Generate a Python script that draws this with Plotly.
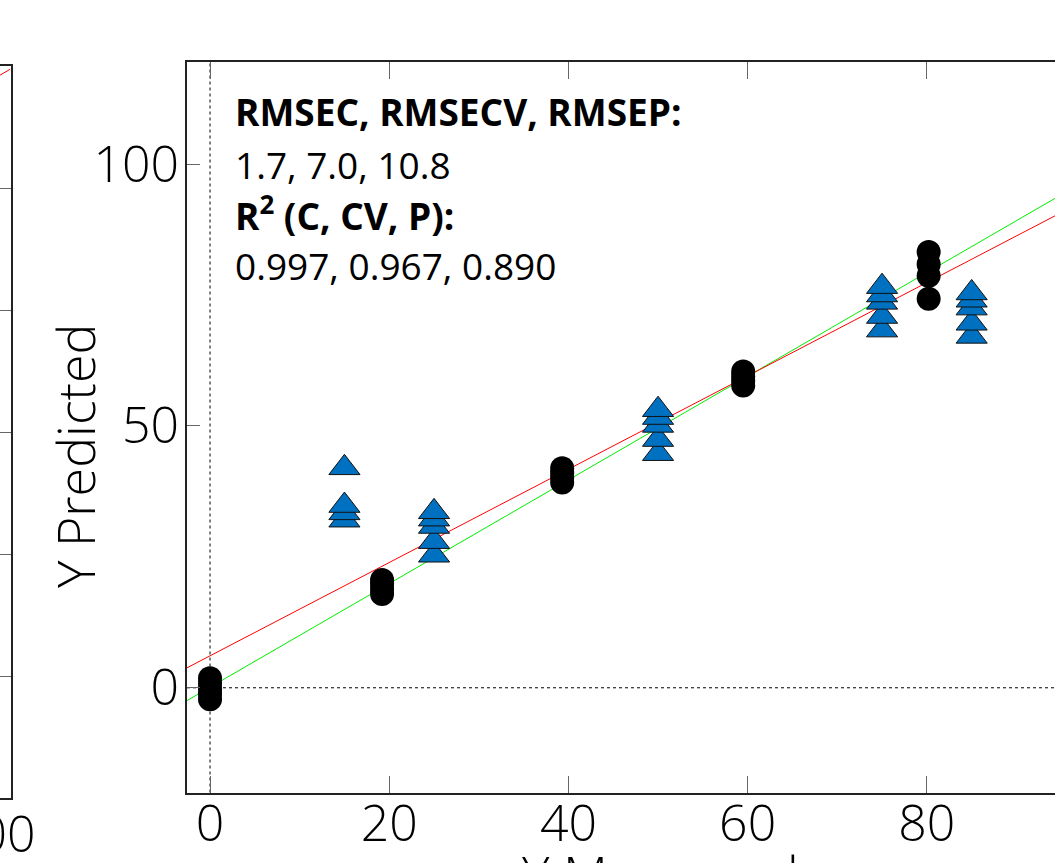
import plotly.graph_objects as go

W, H = 1055, 863

# ---------------- data ----------------
# calibration samples (black circles): measured level -> predicted values
cal_levels = [0, 19.2, 39.3, 59.5, 80.2]
cal_pred = [
    [1.8, 0.8, -0.3, -1.2, -2.2],
    [20.6, 19.8, 18.9, 17.9],
    [41.9, 41.0, 40.2, 39.2],
    [60.4, 59.5, 58.6, 57.7],
    [83.2, 80.9, 78.7, 74.3],
]
# prediction samples (blue triangles)
pred_levels = [15, 25, 50, 75, 85]
pred_pred = [
    [32.0, 33.4, 34.8, 42.0],
    [25.3, 27.9, 30.8, 32.2, 33.6],
    [44.7, 47.4, 50.1, 51.6, 53.1],
    [68.3, 70.9, 73.6, 75.0, 76.6],
    [67.1, 69.6, 72.5, 74.0, 75.4],
]
# fitted lines: (intercept, slope)
fit_green = (0.1, 0.99)
fit_red = (6.1, 0.891)
left_fit_red = (12.8, 0.85)

main_xrange = [-2.57, 94.3]
main_yrange = [-20, 119.5]
x_ticks = [0, 20, 40, 60, 80]
y_ticks = [0, 50, 100]
left_xrange = [100.83, 102.0]
left_yrange = [-20, 100]

stats_title = "<b>RMSEC, RMSECV, RMSEP:</b>"
stats_vals = "1.7, 7.0, 10.8"
r2_title = "<b>R<sup>2</sup> (C, CV, P):</b>"
r2_vals = "0.997, 0.967, 0.890"

# ---------------- helpers ----------------
def px(x):
    return x / W

def py(y):
    return 1 - y / H

cal_x = [lv for lv, vals in zip(cal_levels, cal_pred) for _ in vals]
cal_y = [v for vals in cal_pred for v in vals]
pr_x = [lv for lv, vals in zip(pred_levels, pred_pred) for _ in vals]
pr_y = [v for vals in pred_pred for v in vals]

def line_pts(fit, xr):
    a, b = fit
    return list(xr), [a + b * x for x in xr]

fig = go.Figure()

# left (cut-off) panel
lx, ly = line_pts(left_fit_red, left_xrange)
fig.add_trace(go.Scatter(x=lx, y=ly, mode="lines", line=dict(color="#ff0000", width=1),
                         xaxis="x2", yaxis="y2", showlegend=False, hoverinfo="skip"))

# main panel lines
gx, gy = line_pts(fit_green, main_xrange)
fig.add_trace(go.Scatter(x=gx, y=gy, mode="lines", line=dict(color="#00ee00", width=1),
                         showlegend=False))
rx, ry = line_pts(fit_red, main_xrange)
fig.add_trace(go.Scatter(x=rx, y=ry, mode="lines", line=dict(color="#ff0000", width=1),
                         showlegend=False))

fig.add_trace(go.Scatter(x=pr_x, y=pr_y, mode="markers",
                         marker=dict(symbol="triangle-up", size=27, color="#0070C0",
                                     line=dict(color="#111111", width=1)),
                         showlegend=False))
fig.add_trace(go.Scatter(x=cal_x, y=cal_y, mode="markers",
                         marker=dict(symbol="circle", size=24, color="black",
                                     line=dict(width=0)),
                         showlegend=False))

fig.add_hline(y=0, line=dict(color="black", width=1, dash="dot"), layer="below")
fig.add_vline(x=0, line=dict(color="black", width=1, dash="dot"), layer="below")

tickfont = dict(family="Open Sans", size=50, color="black", weight=300)

fig.update_layout(
    width=W, height=H,
    margin=dict(l=0, r=0, t=0, b=0, autoexpand=False),
    paper_bgcolor="white", plot_bgcolor="white",
    showlegend=False,
    xaxis=dict(domain=[px(187), 1], range=main_xrange, tickvals=x_ticks,
               ticks="inside", ticklen=17, tickwidth=1, tickcolor="#666666",
               showline=True, linecolor="#222222", linewidth=2, mirror="ticks",
               showgrid=False, zeroline=False, tickfont=tickfont, anchor="y",
               automargin=False, ticklabelstandoff=-14),
    yaxis=dict(domain=[py(792.5), py(62)], range=main_yrange, tickvals=y_ticks,
               ticks="inside", ticklen=13, tickwidth=1, tickcolor="#666666",
               showline=True, linecolor="#222222", linewidth=2, mirror=False,
               showgrid=False, zeroline=False, tickfont=tickfont, anchor="x",
               automargin=False, ticklabelstandoff=-4),
    xaxis2=dict(domain=[0, px(10.5)], range=left_xrange, showticklabels=False,
                ticks="", showline=True, linecolor="#222222", linewidth=2, mirror=True,
                showgrid=False, zeroline=False, anchor="y2", automargin=False),
    yaxis2=dict(domain=[py(798), py(66)], range=left_yrange, dtick=20, side="right",
                ticks="inside", ticklen=13, tickwidth=1, tickcolor="#666666",
                showline=True, linecolor="#222222", linewidth=2, showticklabels=False,
                showgrid=False, zeroline=False, anchor="x2", automargin=False),
)

txtfont = dict(family="Open Sans", size=37, color="black")
ann = [
    dict(text=stats_title, x=px(233), y=py(112)),
    dict(text=stats_vals, x=px(233), y=py(165)),
    dict(text=r2_title, x=px(233), y=py(213)),
    dict(text=r2_vals, x=px(233), y=py(265)),
]
for a in ann:
    fig.add_annotation(text=a["text"], x=a["x"], y=a["y"], xref="paper", yref="paper",
                       xanchor="left", yanchor="middle", showarrow=False, font=txtfont)

titlefont = dict(family="Open Sans", size=52, color="black", weight=300)
fig.add_annotation(text="Y Predicted", textangle=-90, x=px(75), y=py(456),
                   xref="paper", yref="paper", xanchor="center", yanchor="middle",
                   showarrow=False, font=titlefont)
fig.add_annotation(text="Y Measured", x=px(660), y=py(836), xref="paper", yref="paper",
                   xanchor="center", yanchor="top", showarrow=False, font=titlefont)
# tick label of the cut-off left panel
fig.add_annotation(text="100", x=px(-7.5), y=py(833), xref="paper", yref="paper",
                   xanchor="center", yanchor="middle", showarrow=False, font=tickfont)

fig.write_html("out.html")
